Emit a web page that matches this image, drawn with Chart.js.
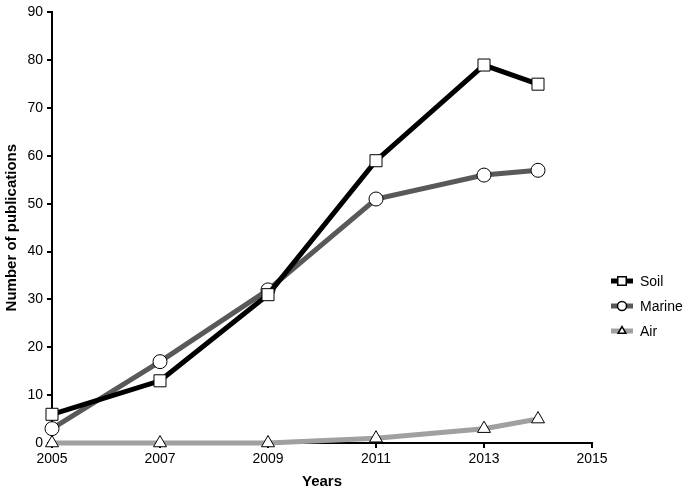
<!DOCTYPE html>
<html>
<head>
<meta charset="utf-8">
<script src="https://cdn.jsdelivr.net/npm/chart.js@4"></script>
<style>
  body { margin: 0; background: #fff; }
  #wrap { width: 700px; height: 495px; position: relative; }
</style>
</head>
<body>
<div id="wrap"><canvas id="chart"></canvas></div>
<script>
const years = [2005, 2007, 2009, 2011, 2013, 2014];
const soil = [6, 13, 31, 59, 79, 75];
const marine = [3, 17, 32, 51, 56, 57];
const air = [0, 0, 0, 1, 3, 5];
const xTicks = [2005, 2007, 2009, 2011, 2013, 2015];

const FONT = "'Liberation Sans', Arial, sans-serif";

const toPoints = function (vals) {
  return years.map((y, i) => ({ x: y, y: vals[i] }));
};

// legend drawn by hand: short line with the marker in the middle
const sideLegend = {
  id: "sideLegend",
  afterDraw(chart) {
    const ctx = chart.ctx;
    const x0 = 611, x1 = 633, tx = 640;
    let y = 281;
    chart.data.datasets.forEach((ds) => {
      ctx.save();
      ctx.strokeStyle = ds.borderColor;
      ctx.lineWidth = 5;
      ctx.beginPath();
      ctx.moveTo(x0, y);
      ctx.lineTo(x1, y);
      ctx.stroke();
      ctx.fillStyle = "#fff";
      ctx.strokeStyle = "#000";
      ctx.lineWidth = 1.5;
      Chart.helpers.drawPoint(ctx, {
        pointStyle: ds.pointStyle,
        radius: ds.pointStyle === "rect" ? 6 : 4.5,
        borderWidth: 1.5,
      }, (x0 + x1) / 2, y);
      ctx.fillStyle = "#000";
      ctx.font = "14px " + FONT;
      ctx.textBaseline = "middle";
      ctx.fillText(ds.label, tx, y + 1);
      ctx.restore();
      y += 25;
    });
  },
};

const commonDs = {
  fill: false,
  borderWidth: 5,
  pointBackgroundColor: "#fff",
  pointBorderColor: "#000",
  pointBorderWidth: 1,
  tension: 0,
  clip: false,
};

const ctx = document.getElementById("chart");
const chart = new Chart(ctx, {
  type: "line",
  data: {
    datasets: [
      { ...commonDs, label: "Soil", data: toPoints(soil), borderColor: "#000", pointStyle: "rect", pointRadius: 8.5 },
      { ...commonDs, label: "Marine", data: toPoints(marine), borderColor: "#595959", pointStyle: "circle", pointRadius: 7 },
      { ...commonDs, label: "Air", data: toPoints(air), borderColor: "#a0a0a0", pointStyle: "triangle", pointRadius: 7.5 },
    ],
  },
  options: {
    responsive: true,
    maintainAspectRatio: false,
    animation: false,
    layout: { padding: { top: 7, right: 108, left: 3, bottom: 0 } },
    plugins: { legend: { display: false }, tooltip: { enabled: false } },
    scales: {
      x: {
        type: "linear",
        min: 2005,
        max: 2015,
        afterBuildTicks(scale) {
          scale.ticks = xTicks.map((v) => ({ value: v }));
        },
        afterFit(scale) { scale.height = 52; },
        ticks: {
          color: "#000",
          font: { family: FONT, size: 14 },
          padding: 3,
          maxRotation: 0,
          callback: (v) => String(v),
        },
        grid: { drawOnChartArea: false, drawTicks: true, tickLength: 5, color: "#000", lineWidth: 2 },
        border: { color: "#000", width: 2 },
        title: {
          display: true,
          text: "Years",
          color: "#000",
          font: { family: FONT, size: 15, weight: "bold" },
          padding: { top: 6 },
        },
      },
      y: {
        min: 0,
        max: 90,
        afterFit(scale) { scale.width = 49; },
        ticks: {
          stepSize: 10,
          color: "#000",
          font: { family: FONT, size: 14 },
          padding: 4,
        },
        grid: { drawOnChartArea: false, drawTicks: true, tickLength: 5, color: "#000", lineWidth: 2 },
        border: { color: "#000", width: 2 },
        title: {
          display: true,
          text: "Number of publications",
          color: "#000",
          font: { family: FONT, size: 15, weight: "bold" },
          padding: { top: 0, bottom: 0 },
        },
      },
    },
  },
  plugins: [sideLegend],
});
</script>
</body>
</html>
